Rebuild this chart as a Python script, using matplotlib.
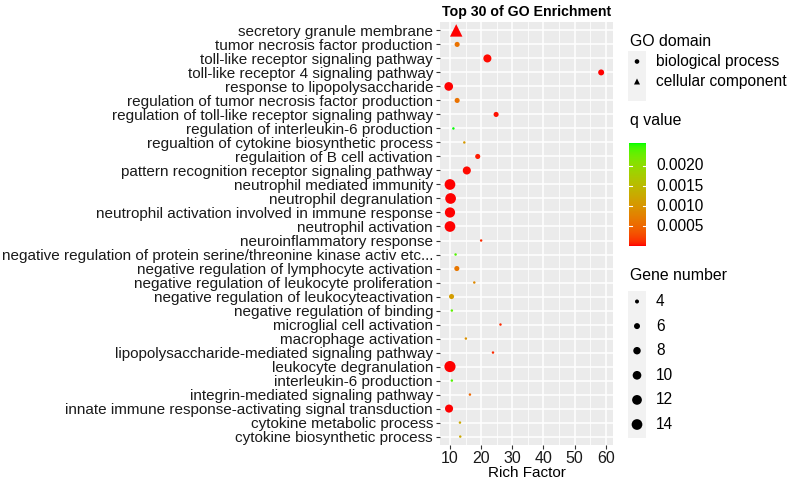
import numpy as np
import matplotlib
matplotlib.use("Agg")
import matplotlib.pyplot as plt
from matplotlib.colors import ListedColormap, Normalize

plt.rcParams['font.family'] = ['Liberation Sans', 'DejaVu Sans']

terms = [
    "secretory granule membrane",
    "tumor necrosis factor production",
    "toll-like receptor signaling pathway",
    "toll-like receptor 4 signaling pathway",
    "response to lipopolysaccharide",
    "regulation of tumor necrosis factor production",
    "regulation of toll-like receptor signaling pathway",
    "regulation of interleukin-6 production",
    "regualtion of cytokine biosynthetic process",
    "regulaition of B cell activation",
    "pattern recognition receptor signaling pathway",
    "neutrophil mediated immunity",
    "neutrophil degranulation",
    "neutrophil activation involved in immune response",
    "neutrophil activation",
    "neuroinflammatory response",
    "negative regulation of protein serine/threonine kinase activ etc...",
    "negative regulation of lymphocyte activation",
    "negative regulation of leukocyte proliferation",
    "negative regulation of leukocyteactivation",
    "negative regulation of binding",
    "microglial cell activation",
    "macrophage activation",
    "lipopolysaccharide-mediated signaling pathway",
    "leukocyte degranulation",
    "interleukin-6 production",
    "integrin-mediated signaling pathway",
    "innate immune response-activating signal transduction",
    "cytokine metabolic process",
    "cytokine biosynthetic process",
]
domain = ["cellular component"] + ["biological process"] * 29
rich_factor = [12.0, 12.3, 22.0, 58.5, 9.6, 12.3, 24.8, 11.1, 14.6, 18.9,
               15.4, 10.0, 10.2, 10.0, 10.0, 20.0, 11.8, 12.2, 17.8, 10.5,
               10.6, 26.2, 15.1, 23.8, 10.0, 10.6, 16.4, 9.7, 13.2, 13.3]
gene_number = [11, 5, 9, 6, 10, 5, 5, 3, 3, 5,
               9, 14, 14, 13, 14, 3, 3, 5, 3, 5,
               3, 3, 3, 3, 15, 3, 3, 9, 3, 3]
q_value = [0.00001, 0.00060, 0.00002, 0.00001, 0.00001, 0.00060, 0.00003, 0.00257, 0.00105, 0.00005,
           0.00002, 0.00001, 0.00001, 0.00001, 0.00001, 0.00010, 0.00240, 0.00065, 0.00085, 0.00110,
           0.00235, 0.00010, 0.00095, 0.00010, 0.00001, 0.00240, 0.00050, 0.00001, 0.00125, 0.00125]
x_ticks = [10, 20, 30, 40, 50, 60]
q_ticks = [0.0005, 0.0010, 0.0015, 0.0020]
size_breaks = [4, 6, 8, 10, 12, 14]

# ---- Lab interpolation (like ggplot scale_colour_gradient) ----
def srgb_to_lab(rgb):
    rgb = np.asarray(rgb, float)
    lin = np.where(rgb <= 0.04045, rgb / 12.92, ((rgb + 0.055) / 1.055) ** 2.4)
    M = np.array([[0.4124, 0.3576, 0.1805], [0.2126, 0.7152, 0.0722], [0.0193, 0.1192, 0.9505]])
    xyz = M @ lin
    wp = np.array([0.95047, 1.0, 1.08883])
    t = xyz / wp
    f = np.where(t > (6/29) ** 3, np.cbrt(t), t / (3 * (6/29) ** 2) + 4/29)
    return np.array([116 * f[1] - 16, 500 * (f[0] - f[1]), 200 * (f[1] - f[2])])

def lab_to_srgb(lab):
    L, a, b = lab
    fy = (L + 16) / 116
    fx = fy + a / 500
    fz = fy - b / 200
    def finv(f):
        return np.where(f > 6/29, f ** 3, 3 * (6/29) ** 2 * (f - 4/29))
    wp = np.array([0.95047, 1.0, 1.08883])
    xyz = wp * np.array([finv(fx), finv(fy), finv(fz)])
    Minv = np.array([[3.2406, -1.5372, -0.4986], [-0.9689, 1.8758, 0.0415], [0.0557, -0.2040, 1.0570]])
    lin = Minv @ xyz
    lin = np.clip(lin, 0, 1)
    rgb = np.where(lin <= 0.0031308, 12.92 * lin, 1.055 * lin ** (1/2.4) - 0.055)
    return np.clip(rgb, 0, 1)

lab_lo = srgb_to_lab([1, 0, 0])
lab_hi = srgb_to_lab([0, 1, 0])
cols = [lab_to_srgb(lab_lo + (lab_hi - lab_lo) * t) for t in np.linspace(0, 1, 256)]
cmap = ListedColormap(cols)
qmin, qmax = min(q_value), max(q_value)
norm = Normalize(qmin, qmax)

# size mapping: diameter in px
def diam_px(v):
    return 3.14 * np.sqrt(np.asarray(v, float) - 2.375)

W, H = 792, 483
fig = plt.figure(figsize=(W / 100, H / 100), dpi=100)
px2pt = 72 / 100

left, right, top, bottom = 440, 613, 22, 445
ax = fig.add_axes([left / W, 1 - bottom / H, (right - left) / W, (bottom - top) / H])
ax.set_facecolor('#EBEBEB')
for s in ax.spines.values():
    s.set_visible(False)

n = len(terms)
ypos = np.arange(n)
ax.set_xlim(6.8, 62.3)
ax.set_ylim(n - 0.4, -0.6)
ax.set_xticks(x_ticks)
ax.set_xticks([15, 25, 35, 45, 55], minor=True)
ax.set_yticks(ypos)
ax.set_yticklabels(terms)
ax.grid(True, which='major', color='white', lw=1.1)
ax.grid(True, which='minor', axis='x', color='white', lw=0.55)
ax.set_axisbelow(True)
ax.tick_params(axis='both', which='major', length=3, width=0.8, color='#333333',
               labelsize=11.0, labelcolor='#1a1a1a', pad=2)
ax.tick_params(axis='x', labelsize=11.5, pad=1)
ax.tick_params(which='minor', length=0)
ax.set_xlabel("Rich Factor", fontsize=11, color='black', labelpad=0)
ax.set_title("Top 30 of GO Enrichment", fontsize=10.2, fontweight='bold', pad=4)

rf = np.array(rich_factor)
gn = np.array(gene_number)
qv = np.array(q_value)
dm = np.array(domain)
for dom, mk, fac in [("biological process", 'o', 1.0), ("cellular component", '^', 1.35)]:
    sel = dm == dom
    d = diam_px(gn[sel]) * fac * px2pt
    ax.scatter(rf[sel], ypos[sel], s=d ** 2, c=qv[sel], cmap=cmap, norm=norm,
               marker=mk, edgecolors='none', zorder=3)

# ---- Legends (figure coordinates in px) ----
def fx(x):
    return x / W

def fy(y):
    return 1 - y / H

lax = fig.add_axes([0, 0, 1, 1], facecolor='none')
lax.set_xlim(0, W)
lax.set_ylim(H, 0)
lax.axis('off')

title_fs = 11.4
text_fs = 11.2
# GO domain
lax.text(630, 42, "GO domain", fontsize=title_fs, va='center', ha='left')
lax.add_patch(plt.Rectangle((628, 51), 18, 50, color='#F2F2F2', lw=0))
lax.scatter([637], [61.5], s=(4.6 * px2pt) ** 2, marker='o', color='black', edgecolors='none')
lax.scatter([637], [81.5], s=(6.0 * px2pt) ** 2, marker='^', color='black', edgecolors='none')
lax.text(656, 61.5, "biological process", fontsize=text_fs, va='center', ha='left')
lax.text(656, 81.5, "cellular component", fontsize=text_fs, va='center', ha='left')

# q value colorbar
lax.text(630, 120, "q value", fontsize=title_fs, va='center', ha='left')
cb_top, cb_bot = 143, 246
cax = fig.add_axes([fx(629), fy(cb_bot), fx(646) - fx(629), (cb_bot - cb_top) / H])
grad = np.linspace(qmin, qmax, 300).reshape(-1, 1)
cax.imshow(grad, aspect='auto', cmap=cmap, norm=norm, origin='lower',
           extent=[0, 1, qmin, qmax])
cax.set_xlim(0, 1)
cax.set_ylim(qmin, qmax)
cax.set_xticks([])
cax.set_yticks([])
for s in cax.spines.values():
    s.set_visible(False)
for q in q_ticks:
    cax.plot([0, 0.2], [q, q], color='white', lw=0.8)
    cax.plot([0.8, 1], [q, q], color='white', lw=0.8)
    yy = cb_bot - (q - qmin) / (qmax - qmin) * (cb_bot - cb_top)
    lax.text(656, yy, f"{q:.4f}", fontsize=text_fs, va='center', ha='left')

# Gene number
lax.text(630, 276, "Gene number", fontsize=title_fs, va='center', ha='left')
lax.add_patch(plt.Rectangle((628, 291), 18, 147, color='#F2F2F2', lw=0))
for i, v in enumerate(size_breaks):
    yy = 301.5 + i * 24.6
    lax.scatter([637], [yy], s=(diam_px(v) * px2pt) ** 2, marker='o', color='black', edgecolors='none')
    lax.text(656, yy, str(v), fontsize=text_fs, va='center', ha='left')

fig.savefig("out.png", dpi=100)
